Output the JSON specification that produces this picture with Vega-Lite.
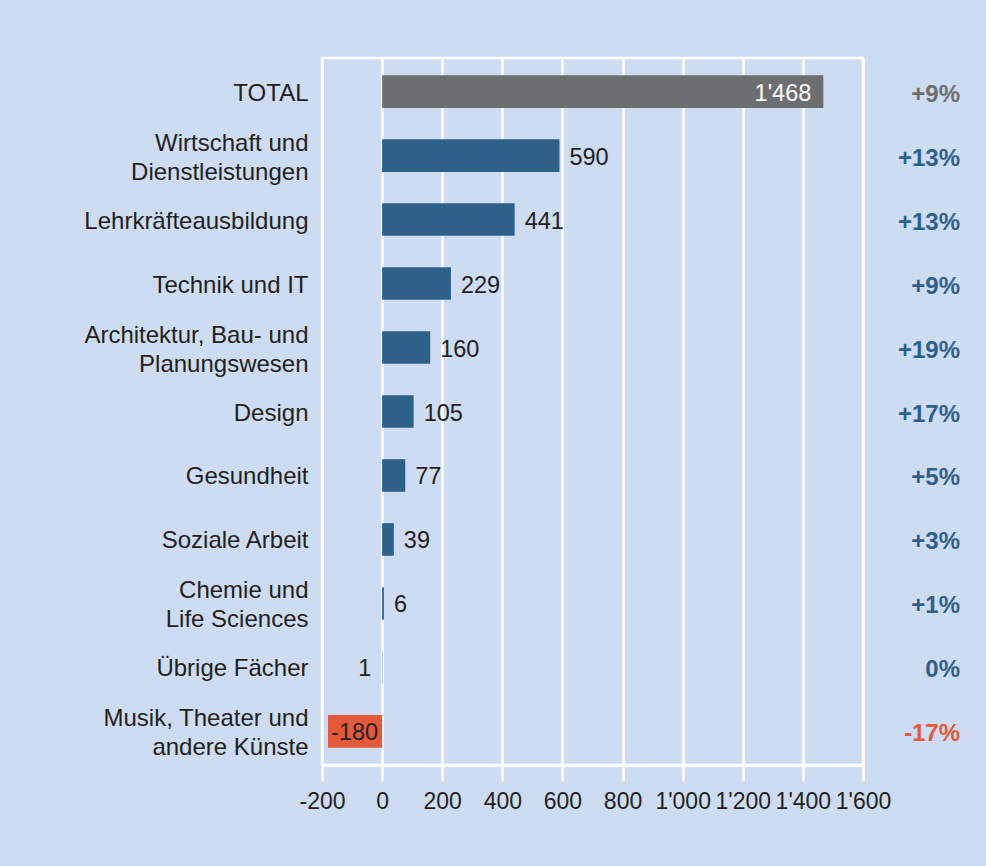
{
  "$schema": "https://vega.github.io/schema/vega-lite/v6.json",
  "width": 541,
  "height": 707,
  "autosize": {"type": "none"},
  "padding": {"left": 322, "top": 58, "right": 123, "bottom": 101},
  "background": "#cedcf1",
  "data": {
    "values": [
      {"cat": "TOTAL", "value": 1468, "change": "+9%"},
      {"cat": "Wirtschaft und|Dienstleistungen", "value": 590, "change": "+13%"},
      {"cat": "Lehrkräfteausbildung", "value": 441, "change": "+13%"},
      {"cat": "Technik und IT", "value": 229, "change": "+9%"},
      {"cat": "Architektur, Bau- und|Planungswesen", "value": 160, "change": "+19%"},
      {"cat": "Design", "value": 105, "change": "+17%"},
      {"cat": "Gesundheit", "value": 77, "change": "+5%"},
      {"cat": "Soziale Arbeit", "value": 39, "change": "+3%"},
      {"cat": "Chemie und|Life Sciences", "value": 6, "change": "+1%"},
      {"cat": "Übrige Fächer", "value": 1, "change": "0%"},
      {"cat": "Musik, Theater und|andere Künste", "value": -180, "change": "-17%"}
    ]
  },
  "encoding": {
    "y": {
      "field": "cat",
      "type": "nominal",
      "sort": null,
      "scale": {"paddingInner": 0.49, "paddingOuter": 0.27},
      "axis": {
        "title": null,
        "domain": false,
        "ticks": false,
        "grid": false,
        "labelPadding": 14,
        "labelFontSize": 24,
        "labelLineHeight": 29,
        "labelColor": "#231f20",
        "labelExpr": "split(datum.label, '|')",
        "labelOffset": {
          "condition": {"test": "indexof(datum.value, '|') >= 0", "value": -12},
          "value": 2
        },
        "labelLimit": 400
      }
    }
  },
  "layer": [
    {
      "mark": {"type": "bar"},
      "encoding": {
        "x": {
          "field": "value",
          "type": "quantitative",
          "scale": {"domain": [-200, 1600], "nice": false},
          "axis": {
            "title": null,
            "values": [-200, 0, 200, 400, 600, 800, 1000, 1200, 1400, 1600],
            "format": ",d",
            "grid": true,
            "gridColor": "white",
            "gridWidth": 2.5,
            "domain": true,
            "domainColor": "white",
            "domainWidth": 3,
            "ticks": true,
            "tickColor": "white",
            "tickSize": 16,
            "tickWidth": 2.5,
            "labelFontSize": 23,
            "labelColor": "#231f20",
            "labelPadding": 9,
            "labelFlush": false,
            "labelOverlap": false
          }
        },
        "color": {
          "condition": [
            {"test": "datum.cat == 'TOTAL'", "value": "#6d6e70"},
            {"test": "datum.value < 0", "value": "#e4593a"}
          ],
          "value": "#2e6189"
        }
      }
    },
    {
      "transform": [{"filter": "datum.value >= 2 && datum.cat != 'TOTAL'"}],
      "mark": {"type": "text", "align": "left", "baseline": "middle", "dx": 10, "dy": 2, "fontSize": 23.5, "color": "#231f20"},
      "encoding": {
        "x": {"field": "value", "type": "quantitative"},
        "text": {"field": "value", "type": "quantitative", "format": ",d"}
      }
    },
    {
      "transform": [{"filter": "datum.value >= 0 && datum.value < 2"}],
      "mark": {"type": "text", "align": "right", "baseline": "middle", "dx": -11, "dy": 2, "fontSize": 23.5, "color": "#231f20"},
      "encoding": {
        "x": {"field": "value", "type": "quantitative"},
        "text": {"field": "value", "type": "quantitative", "format": ",d"}
      }
    },
    {
      "transform": [{"filter": "datum.value < 0"}],
      "mark": {"type": "text", "align": "right", "baseline": "middle", "dx": -4, "dy": 2, "fontSize": 23.5, "color": "#231f20"},
      "encoding": {
        "x": {"datum": 0, "type": "quantitative"},
        "text": {"field": "value", "type": "quantitative", "format": ",d"}
      }
    },
    {
      "transform": [{"filter": "datum.cat == 'TOTAL'"}],
      "mark": {"type": "text", "align": "right", "baseline": "middle", "dx": -12, "dy": 2, "fontSize": 23.5, "color": "white"},
      "encoding": {
        "x": {"field": "value", "type": "quantitative"},
        "text": {"field": "value", "type": "quantitative", "format": ",d"}
      }
    },
    {
      "mark": {"type": "text", "align": "right", "baseline": "middle", "dx": 97, "dy": 3, "fontSize": 24, "fontWeight": "bold"},
      "encoding": {
        "x": {"datum": 1600, "type": "quantitative"},
        "text": {"field": "change", "type": "nominal"},
        "color": {
          "condition": [
            {"test": "datum.cat == 'TOTAL'", "value": "#6d6e70"},
            {"test": "datum.value < 0", "value": "#e4593a"}
          ],
          "value": "#2e6189"
        }
      }
    }
  ],
  "config": {
    "font": "Liberation Sans",
    "view": {"stroke": "white", "strokeWidth": 2.5},
    "locale": {
      "number": {
        "decimal": ".",
        "thousands": "'",
        "grouping": [3],
        "currency": ["", ""],
        "minus": "-"
      }
    }
  }
}
